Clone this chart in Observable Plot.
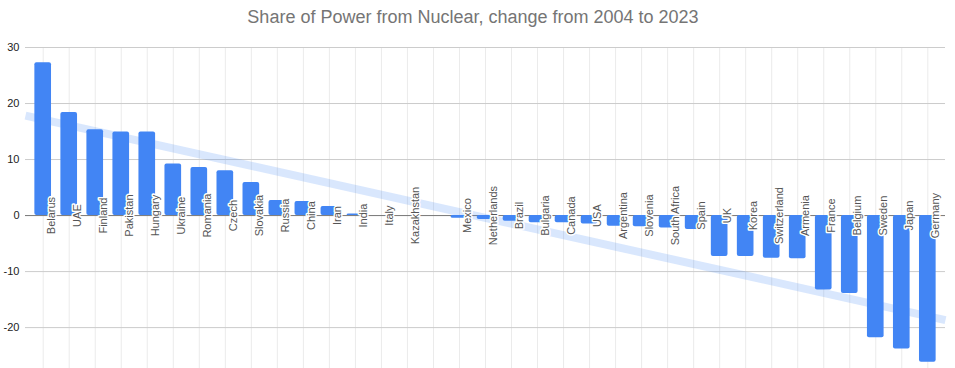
<!DOCTYPE html>
<html>
<head>
<meta charset="utf-8">
<script src="https://cdn.jsdelivr.net/npm/d3@7"></script>
<script src="https://cdn.jsdelivr.net/npm/@observablehq/plot@0.6"></script>
<style>
  html, body { margin: 0; padding: 0; background: #fff; overflow: hidden; }
  #wrap { position: relative; width: 955px; height: 368px; }
  #title { position: absolute; top: 8px; left: 0; width: 946px; text-align: center;
           font: 18px/18px "Liberation Sans", Arial, sans-serif; color: #757575; white-space: nowrap; }
  #chart { position: absolute; top: 35px; left: 0; }
</style>
</head>
<body>
<div id="wrap">
  <div id="title">Share of Power from Nuclear, change from 2004 to 2023</div>
  <div id="chart"></div>
</div>
<script>
const countries = ["Belarus","UAE","Finland","Pakistan","Hungary","Ukraine","Romania","Czech","Slovakia","Russia","China","Iran","India","Italy","Kazakhstan","","Mexico","Netherlands","Brazil","Bulgaria","Canada","USA","Argentina","Slovenia","South Africa","Spain","UK","Korea","Switzerland","Armenia","France","Belgium","Sweden","Japan","Germany"];
const changes = [27.3,18.4,15.3,14.9,14.9,9.2,8.6,8.0,5.9,2.7,2.5,1.6,0.3,0,0,0,-0.5,-0.7,-1.0,-1.3,-1.3,-1.5,-1.9,-2.0,-2.2,-2.5,-7.3,-7.3,-7.6,-7.7,-13.3,-13.9,-21.8,-23.8,-26.2];
const yTicks = [30, 20, 10, 0, -10, -20];

const data = countries.map((c, i) => ({i, country: c, value: changes[i]}));
const n = data.length;
const pad = 0.68;           // outer padding of the category axis, in steps
const half = 0.32;          // half bar width, in steps
const xDomain = [-pad, n - 1 + pad];

// least-squares trend line over category index
const mx = d3.mean(data, d => d.i), my = d3.mean(data, d => d.value);
const slope = d3.sum(data, d => (d.i - mx) * (d.value - my)) / d3.sum(data, d => (d.i - mx) ** 2);
const trend = xDomain.map(x => ({x, y: my + slope * (x - mx)}));

const chart = Plot.plot({
  width: 955,
  height: 333,
  marginLeft: 25,
  marginRight: 10,
  marginTop: 12,
  marginBottom: 0,
  style: {fontFamily: "'Liberation Sans', Arial, sans-serif", fontSize: "11px", color: "#222", background: "#fff"},
  x: {domain: xDomain, axis: null},
  y: {domain: [-27.3, 30], ticks: yTicks, tickSize: 0, tickPadding: 6, tickFormat: d => String(d), label: null},
  marks: [
    Plot.ruleX(data, {x: "i", stroke: "#ebebeb", strokeWidth: 1}),
    Plot.ruleY(yTicks.filter(t => t !== 0), {y: d => d, stroke: "#cccccc", strokeWidth: 1}),
    Plot.ruleY([0], {stroke: "#777", strokeWidth: 1}),
    Plot.line(trend, {x: "x", y: "y", stroke: "#4285f4", strokeOpacity: 0.2, strokeWidth: 8, strokeLinecap: "butt"}),
    Plot.rectY(data, {x1: d => d.i - half, x2: d => d.i + half, y1: 0, y2: "value", fill: "#4285f4", rx: 2}),
    Plot.text(data, {x: "i", y: 0, text: "country", rotate: -90, dx: 8, fill: "#555", stroke: "white", strokeWidth: 3, fontSize: 11})
  ]
});
document.getElementById("chart").appendChild(chart);
</script>
</body>
</html>
